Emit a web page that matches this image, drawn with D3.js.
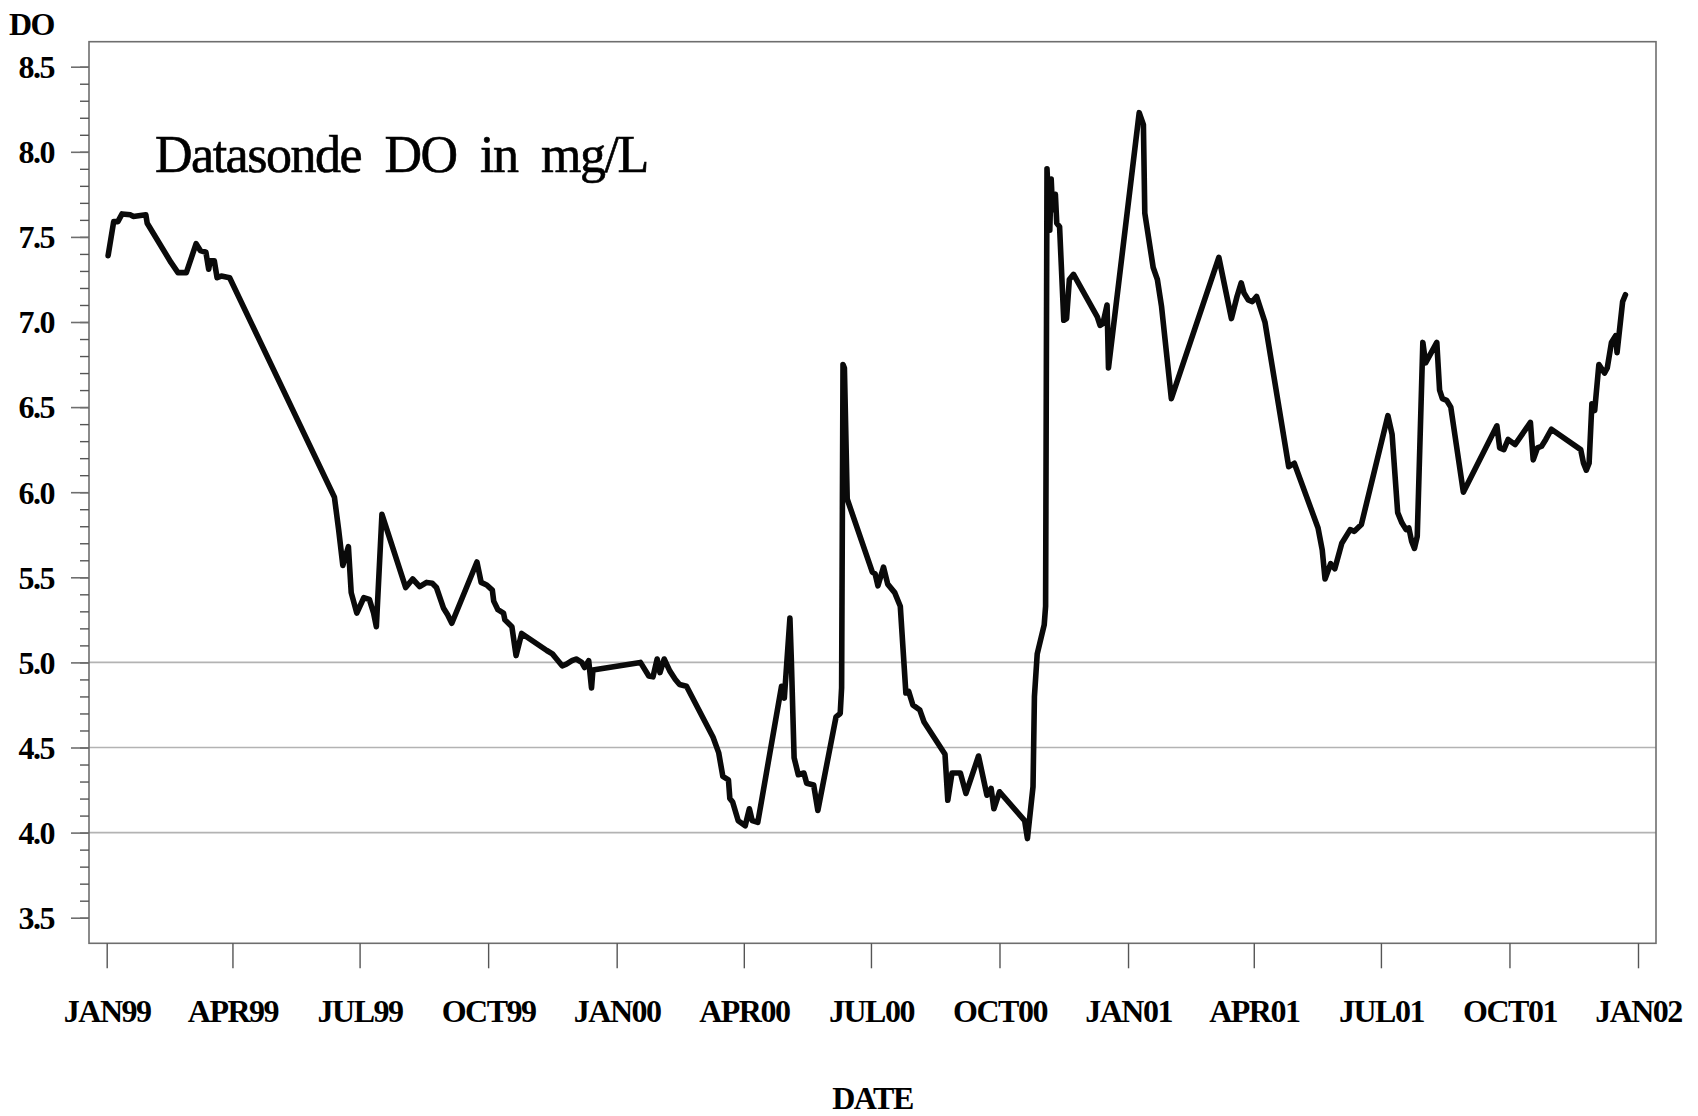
<!DOCTYPE html>
<html>
<head>
<meta charset="utf-8">
<script src="https://cdn.jsdelivr.net/npm/d3@7"></script>
<style>
  body { margin: 0; background: #fff; }
  svg { display: block; }
  .lbl { font-family: "Liberation Serif", "Times New Roman", serif; font-weight: bold; font-size: 32px; letter-spacing: -1.5px; fill: #000; }
</style>
</head>
<body>
<svg id="root"></svg>
<script>
// sample dates and DO readings (mg/L)
const obsDates = [
  "1999-01-02","1999-01-06","1999-01-09","1999-01-12","1999-01-18","1999-01-20","1999-01-29","1999-01-30",
  "1999-02-16","1999-02-21","1999-02-27","1999-03-06","1999-03-09","1999-03-13","1999-03-15","1999-03-16",
  "1999-03-19","1999-03-21","1999-03-24","1999-03-30","1999-06-13","1999-06-16","1999-06-19","1999-06-23",
  "1999-06-25","1999-06-29","1999-07-04","1999-07-08","1999-07-11","1999-07-13","1999-07-17","1999-08-03",
  "1999-08-08","1999-08-13","1999-08-18","1999-08-22","1999-08-25","1999-08-30","1999-09-02","1999-09-05",
  "1999-09-23","1999-09-26","1999-09-30","1999-10-04","1999-10-05","1999-10-08","1999-10-12","1999-10-13",
  "1999-10-18","1999-10-21","1999-10-25","1999-11-12","1999-11-16","1999-11-19","1999-11-23","1999-11-26",
  "1999-11-30","1999-12-03","1999-12-07","1999-12-09","1999-12-12","1999-12-14","1999-12-15","2000-01-18",
  "2000-01-24","2000-01-27","2000-01-30","2000-02-01","2000-02-04","2000-02-08","2000-02-12","2000-02-15",
  "2000-02-20","2000-03-10","2000-03-14","2000-03-17","2000-03-21","2000-03-22","2000-03-24","2000-03-28",
  "2000-04-02","2000-04-05","2000-04-07","2000-04-11","2000-04-28","2000-04-30","2000-05-04","2000-05-05",
  "2000-05-07","2000-05-10","2000-05-14","2000-05-16","2000-05-21","2000-05-24","2000-06-06","2000-06-09",
  "2000-06-10","2000-06-11","2000-06-12","2000-06-14","2000-07-02","2000-07-04","2000-07-06","2000-07-10",
  "2000-07-13","2000-07-18","2000-07-22","2000-07-26","2000-07-28","2000-07-31","2000-08-05","2000-08-08",
  "2000-08-23","2000-08-25","2000-08-28","2000-09-03","2000-09-07","2000-09-16","2000-09-22","2000-09-25",
  "2000-09-27","2000-10-01","2000-10-19","2000-10-21","2000-10-25","2000-10-26","2000-10-28","2000-11-02",
  "2000-11-03","2000-11-04","2000-11-06","2000-11-07","2000-11-08","2000-11-10","2000-11-11","2000-11-13",
  "2000-11-16","2000-11-18","2000-11-20","2000-11-23","2000-12-10","2000-12-12","2000-12-14","2000-12-17",
  "2000-12-18","2001-01-09","2001-01-12","2001-01-13","2001-01-19","2001-01-22","2001-01-25","2001-02-01",
  "2001-03-07","2001-03-16","2001-03-20","2001-03-23","2001-03-25","2001-03-28","2001-03-31","2001-04-03",
  "2001-04-09","2001-04-26","2001-04-30","2001-05-17","2001-05-20","2001-05-22","2001-05-26","2001-05-29",
  "2001-06-03","2001-06-09","2001-06-12","2001-06-17","2001-07-06","2001-07-09","2001-07-13","2001-07-16",
  "2001-07-19","2001-07-21","2001-07-23","2001-07-25","2001-07-27","2001-07-31","2001-08-02","2001-08-10",
  "2001-08-12","2001-08-14","2001-08-17","2001-08-20","2001-08-29","2001-09-22","2001-09-24","2001-09-27",
  "2001-09-30","2001-10-05","2001-10-16","2001-10-18","2001-10-21","2001-10-24","2001-10-27","2001-10-31",
  "2001-11-21","2001-11-23","2001-11-25","2001-11-27","2001-11-29","2001-12-01","2001-12-04","2001-12-08",
  "2001-12-10","2001-12-13","2001-12-16","2001-12-17","2001-12-21","2001-12-23"
];
const doValues = [
  7.39,7.59,7.59,7.635,7.63,7.62,7.63,7.58,
  7.35,7.29,7.29,7.46,7.42,7.41,7.31,7.36,
  7.36,7.26,7.27,7.26,5.97,5.78,5.57,5.68,
  5.41,5.29,5.38,5.37,5.29,5.21,5.87,5.44,
  5.49,5.445,5.47,5.465,5.44,5.32,5.28,5.23,
  5.59,5.47,5.455,5.425,5.36,5.31,5.29,5.25,
  5.21,5.04,5.17,5.07,5.05,5.02,4.98,4.99,
  5.01,5.02,5.00,4.97,5.01,4.85,4.955,5.00,
  4.92,4.915,5.02,4.94,5.02,4.95,4.90,4.87,
  4.86,4.56,4.47,4.33,4.31,4.20,4.18,4.07,
  4.04,4.14,4.07,4.06,4.86,4.79,5.26,5.02,
  4.44,4.34,4.35,4.29,4.28,4.13,4.68,4.70,
  4.85,6.75,6.73,5.96,5.53,5.52,5.45,5.56,
  5.46,5.41,5.33,4.82,4.83,4.75,4.72,4.65,
  4.46,4.19,4.35,4.35,4.23,4.45,4.22,4.26,
  4.14,4.24,4.07,3.965,4.27,4.80,5.05,5.22,
  5.33,7.90,7.54,7.84,7.66,7.75,7.58,7.56,
  7.01,7.02,7.25,7.28,7.03,6.98,6.99,7.10,
  6.73,8.23,8.16,7.64,7.32,7.25,7.09,6.55,
  7.38,7.02,7.15,7.23,7.17,7.13,7.12,7.15,
  7.00,6.15,6.17,5.79,5.66,5.49,5.58,5.55,
  5.70,5.78,5.77,5.81,6.45,6.34,5.88,5.82,
  5.78,5.79,5.71,5.67,5.74,6.88,6.76,6.88,
  6.60,6.55,6.54,6.50,6.00,6.39,6.26,6.25,
  6.31,6.28,6.41,6.19,6.26,6.27,6.31,6.37,
  6.25,6.17,6.13,6.17,6.52,6.48,6.75,6.70,
  6.73,6.88,6.92,6.82,7.12,7.16
];

const tickDates = ["1999-01-01","1999-04-01","1999-07-01","1999-10-01","2000-01-01","2000-04-01","2000-07-01",
                   "2000-10-01","2001-01-01","2001-04-01","2001-07-01","2001-10-01","2002-01-01"];
const tickLabels = ["JAN99","APR99","JUL99","OCT99","JAN00","APR00","JUL00","OCT00","JAN01","APR01","JUL01","OCT01","JAN02"];
const yMajor = [3.5, 4.0, 4.5, 5.0, 5.5, 6.0, 6.5, 7.0, 7.5, 8.0, 8.5];
const refLines = [4.0, 4.5, 5.0];

const width = 1698, height = 1116;
const frame = { left: 89, top: 41.7, right: 1656, bottom: 943.3 };

const parse = d3.timeParse('%Y-%m-%d');
const data = obsDates.map((d, i) => ({ date: parse(d), v: doValues[i] }));

const xScale = d3.scaleTime()
    .domain([parse('1999-01-01'), parse('2002-01-01')])
    .range([106.7, 1638]);
const yScale = d3.scaleLinear()
    .domain([3.3496, 8.6469])
    .range([frame.bottom, frame.top]);

const svg = d3.select('#root')
    .attr('width', width)
    .attr('height', height);

// reference lines
svg.append('g')
    .selectAll('line')
    .data(refLines)
    .join('line')
    .attr('x1', frame.left).attr('x2', frame.right)
    .attr('y1', d => yScale(d)).attr('y2', d => yScale(d))
    .attr('stroke', '#b3b3b3')
    .attr('stroke-width', 1.6);

// frame
svg.append('rect')
    .attr('x', frame.left).attr('y', frame.top)
    .attr('width', frame.right - frame.left)
    .attr('height', frame.bottom - frame.top)
    .attr('fill', 'none')
    .attr('stroke', '#6e6e6e')
    .attr('stroke-width', 1.6);

// y axis: minor ticks every 0.1
const minor = d3.range(35, 86).map(d => d / 10);
const yMinor = svg.append('g')
    .attr('transform', `translate(${frame.left},0)`)
    .call(d3.axisLeft(yScale).tickValues(minor).tickSize(9).tickFormat(''));
yMinor.select('.domain').remove();
yMinor.selectAll('line').attr('stroke', '#555').attr('stroke-width', 1.4);

const yAxis = svg.append('g')
    .attr('transform', `translate(${frame.left},0)`)
    .call(d3.axisLeft(yScale).tickValues(yMajor).tickSize(18).tickFormat(d3.format('.1f')));
yAxis.select('.domain').remove();
yAxis.selectAll('line').attr('stroke', '#6e6e6e').attr('stroke-width', 1.6);
yAxis.selectAll('text')
    .attr('class', 'lbl')
    .attr('x', -35)
    .attr('dy', '0.34em')
    .attr('font-family', null).attr('font-size', null);

// x axis
const xAxis = svg.append('g')
    .attr('transform', `translate(0,${frame.bottom})`)
    .call(d3.axisBottom(xScale)
        .tickValues(tickDates.map(parse))
        .tickSize(25)
        .tickFormat((d, i) => tickLabels[i]));
xAxis.select('.domain').remove();
xAxis.selectAll('line').attr('stroke', '#555').attr('stroke-width', 1.4);
xAxis.selectAll('text')
    .attr('class', 'lbl')
    .attr('y', 79)
    .attr('dy', null)
    .attr('font-family', null).attr('font-size', null);

// axis titles
svg.append('text')
    .attr('class', 'lbl')
    .attr('x', 54).attr('y', 35)
    .attr('text-anchor', 'end')
    .text('DO');
svg.append('text')
    .attr('class', 'lbl')
    .attr('x', (frame.left + frame.right) / 2).attr('y', 1109)
    .attr('text-anchor', 'middle')
    .text('DATE');

// title inside the plot
svg.append('text')
    .attr('x', 155).attr('y', 172)
    .attr('font-family', '"Liberation Serif", "Times New Roman", serif')
    .attr('font-size', 52)
    .attr('letter-spacing', '-1.5px')
    .attr('word-spacing', '12px')
    .attr('stroke', '#000')
    .attr('stroke-width', 0.6)
    .text('Datasonde DO in mg/L');

// the series
const line = d3.line()
    .x(d => xScale(d.date))
    .y(d => yScale(d.v));

svg.append('path')
    .datum(data)
    .attr('d', line)
    .attr('fill', 'none')
    .attr('stroke', '#0a0a0a')
    .attr('stroke-width', 5.6)
    .attr('stroke-linejoin', 'round')
    .attr('stroke-linecap', 'round');
</script>
</body>
</html>
